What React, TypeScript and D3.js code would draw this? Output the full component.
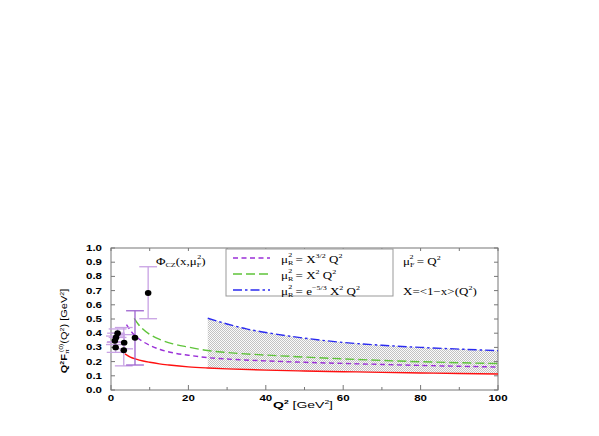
import React from "react";
import * as d3 from "d3";

// Q^2 grid and curve values
const redQ = [3.6, 5, 6.5, 8.3, 10, 12.5, 15, 20, 25, 30, 40, 50, 60, 70, 80, 90, 100];
const redY = [0.255, 0.232, 0.217, 0.204, 0.195, 0.184, 0.176, 0.163, 0.155, 0.149, 0.14, 0.134, 0.129, 0.124, 0.12, 0.116, 0.113];

const purpleQ = [4.0, 5, 6.5, 8, 10, 12.7, 16, 20, 25, 30, 40, 50, 60, 70, 80, 90, 100];
const purpleY = [0.46, 0.42, 0.375, 0.345, 0.315, 0.285, 0.262, 0.245, 0.228, 0.218, 0.205, 0.195, 0.187, 0.18, 0.173, 0.167, 0.162];

const greenQ = [6, 7, 8, 10, 12.7, 16, 20, 25, 30, 40, 50, 60, 70, 80, 90, 100];
const greenY = [0.505, 0.465, 0.435, 0.392, 0.355, 0.325, 0.302, 0.278, 0.264, 0.246, 0.232, 0.219, 0.208, 0.199, 0.192, 0.186];

const blueQ = [25, 30, 35, 40, 50, 60, 70, 80, 90, 100];
const blueY = [0.505, 0.465, 0.43, 0.405, 0.365, 0.335, 0.315, 0.3, 0.288, 0.277];

// experimental points: x, y, lower, upper
const dataX = [1.7, 1.3, 1.0, 1.2, 3.4, 3.3, 6.2, 9.6];
const dataY = [0.4, 0.37, 0.347, 0.3, 0.333, 0.28, 0.368, 0.683];
const dataLo = [0.37, 0.34, 0.32, 0.265, 0.29, 0.17, 0.176, 0.502];
const dataHi = [0.43, 0.4, 0.38, 0.335, 0.39, 0.44, 0.558, 0.868];

const xTicks = [0, 20, 40, 60, 80, 100];
const yTicks = [0, 0.1, 0.2, 0.3, 0.4, 0.5, 0.6, 0.7, 0.8, 0.9, 1.0];

const W = 599;
const H = 436;
const x = d3.scaleLinear().domain([0, 100]).range([111, 498]);
const y = d3.scaleLinear().domain([0, 1]).range([390, 248]);

const pts = (qs: number[], ys: number[]) => qs.map((q, i) => [q, ys[i]] as [number, number]);

const line = d3
  .line<[number, number]>()
  .x((d) => x(d[0]))
  .y((d) => y(d[1]))
  .curve(d3.curveMonotoneX);

const serif = "Liberation Serif, Times New Roman, serif";
const sans = "Liberation Sans, Arial, sans-serif";

// squashed text, like the downscaled postscript
const Sq = ({ x: tx, y: ty, k = 0.75, children }: any) => (
  <g transform={`translate(${tx},${ty}) scale(1,${k})`}>{children}</g>
);

const MuR = ({ sub }: { sub: string }) => (
  <>
    <tspan>μ</tspan>
    <tspan fontSize={8} dy={3}>{sub}</tspan>
    <tspan fontSize={8} dx={-5} dy={-10}>2</tspan>
    <tspan dy={7}>{"\u00a0"}</tspan>
  </>
);

export default function App() {
  const band = [
    ...pts(blueQ, blueY),
    ...pts(redQ, redY).filter((d) => d[0] >= 25).reverse(),
  ];
  const bandPath =
    "M" + band.map((d) => `${x(d[0])},${y(d[1])}`).join("L") + "Z";

  const cap = 2.3;

  return (
    <svg
      width={W}
      height={H}
      style={{ position: "absolute", left: 0, top: 0, background: "#fff" }}
    >
      <defs>
        <pattern id="dots" width={2} height={2} patternUnits="userSpaceOnUse">
          <rect width={2} height={2} fill="#fafafa" />
          <rect width={1} height={1} fill="#c2c2c2" />
          <rect x={1} y={1} width={1} height={1} fill="#c2c2c2" />
        </pattern>
      </defs>

      {/* shaded band */}
      <path d={bandPath} fill="url(#dots)" stroke="none" />

      {/* frame */}
      <rect x={111} y={248} width={387} height={142} fill="none" stroke="#777" strokeWidth={1} />

      {/* ticks */}
      {yTicks.map((t) => (
        <g key={"y" + t}>
          <line x1={111} x2={115} y1={y(t)} y2={y(t)} stroke="#777" />
          <line x1={494} x2={498} y1={y(t)} y2={y(t)} stroke="#777" />
        </g>
      ))}
      {d3.range(0, 101, 10).map((t) => (
        <g key={"x" + t}>
          <line x1={x(t)} x2={x(t)} y1={390} y2={t % 20 === 0 ? 385 : 387} stroke="#777" />
          <line x1={x(t)} x2={x(t)} y1={248} y2={251} stroke="#777" />
        </g>
      ))}

      {/* tick labels */}
      {yTicks.map((t) => (
        <Sq key={"yl" + t} x={102} y={y(t) + 3}>
          <text textAnchor="end" fontFamily={sans} fontWeight="bold" fontSize={11.5}>
            {t.toFixed(1)}
          </text>
        </Sq>
      ))}
      {xTicks.map((t) => (
        <Sq key={"xl" + t} x={x(t)} y={401}>
          <text textAnchor="middle" fontFamily={sans} fontWeight="bold" fontSize={11.5}>
            {t}
          </text>
        </Sq>
      ))}

      {/* axis titles */}
      <Sq x={303} y={408} k={0.7}>
        <text textAnchor="middle" fontFamily={sans} fontSize={14}>
          <tspan fontWeight="bold">Q</tspan>
          <tspan fontSize={8.5} dy={-6} fontWeight="bold">2</tspan>
          <tspan dy={6}> [GeV</tspan>
          <tspan fontSize={8.5} dy={-6}>2</tspan>
          <tspan dy={6}>]</tspan>
        </text>
      </Sq>
      <g transform="translate(67,331) rotate(-90) scale(1,0.8)">
        <text textAnchor="middle" fontFamily={sans} fontSize={11}>
          <tspan fontWeight="bold">Q</tspan>
          <tspan fontSize={7} dy={-4} fontWeight="bold">2</tspan>
          <tspan dy={4} fontWeight="bold">F</tspan>
          <tspan fontSize={7} dy={3}>π</tspan>
          <tspan fontSize={7} dx={-3} dy={-8}>(0)</tspan>
          <tspan dy={5}>(Q</tspan>
          <tspan fontSize={7} dy={-4}>2</tspan>
          <tspan dy={4}>) [GeV</tspan>
          <tspan fontSize={7} dy={-4}>2</tspan>
          <tspan dy={4}>]</tspan>
        </text>
      </g>

      {/* curves */}
      <path d={line(pts(redQ, redY)) || ""} fill="none" stroke="#ff1010" strokeWidth={1.4} />
      <path d={line(pts(purpleQ, purpleY)) || ""} fill="none" stroke="#9b30d8" strokeWidth={1.4} strokeDasharray="5,3.5" />
      <path d={line(pts(greenQ, greenY)) || ""} fill="none" stroke="#5fc43a" strokeWidth={1.4} strokeDasharray="9,4" />
      <path d={line(pts(blueQ, blueY)) || ""} fill="none" stroke="#2a2af0" strokeWidth={1.4} strokeDasharray="9,3,2.5,3" />

      {/* data with error bars */}
      {dataX.map((dx, i) => {
        const c = i === 6 ? "#9d63cf" : "#c8a2e4";
        return (
          <g key={"d" + i} stroke={c} strokeWidth={1.3}>
            <line x1={x(dx)} x2={x(dx)} y1={y(dataLo[i])} y2={y(dataHi[i])} />
            <line x1={x(dx - cap)} x2={x(dx + cap)} y1={y(dataLo[i])} y2={y(dataLo[i])} />
            <line x1={x(dx - cap)} x2={x(dx + cap)} y1={y(dataHi[i])} y2={y(dataHi[i])} />
          </g>
        );
      })}
      {dataX.map((dx, i) => (
        <ellipse key={"p" + i} cx={x(dx)} cy={y(dataY[i])} rx={3.3} ry={2.9} fill="#000" />
      ))}

      {/* annotations */}
      <Sq x={156} y={265} k={0.8}>
        <text fontFamily={serif} fontSize={13}>
          <tspan>Φ</tspan>
          <tspan fontSize={8} dy={2}>CZ</tspan>
          <tspan dy={-2}>(x,μ</tspan>
          <tspan fontSize={8} dy={2}>F</tspan>
          <tspan fontSize={8} dx={-4} dy={-9}>2</tspan>
          <tspan dy={7}>)</tspan>
        </text>
      </Sq>

      {/* legend */}
      <rect x={226} y={249} width={167} height={47} fill="#fff" stroke="#999" strokeWidth={1} />
      <line x1={233} x2={270} y1={258} y2={258} stroke="#9b30d8" strokeWidth={1.4} strokeDasharray="5,3.5" />
      <line x1={233} x2={270} y1={274} y2={274} stroke="#5fc43a" strokeWidth={1.4} strokeDasharray="9,4" />
      <line x1={233} x2={270} y1={290} y2={290} stroke="#2a2af0" strokeWidth={1.4} strokeDasharray="9,3,2.5,3" />
      <Sq x={281} y={263} k={0.8}>
        <text fontFamily={serif} fontSize={13}>
          <MuR sub="R" />
          <tspan>= X</tspan>
          <tspan fontSize={8} dy={-6}>3/2</tspan>
          <tspan dy={6}> Q</tspan>
          <tspan fontSize={8} dy={-6}>2</tspan>
        </text>
      </Sq>
      <Sq x={281} y={279} k={0.8}>
        <text fontFamily={serif} fontSize={13}>
          <MuR sub="R" />
          <tspan>= X</tspan>
          <tspan fontSize={8} dy={-6}>2</tspan>
          <tspan dy={6}> Q</tspan>
          <tspan fontSize={8} dy={-6}>2</tspan>
        </text>
      </Sq>
      <Sq x={281} y={295} k={0.8}>
        <text fontFamily={serif} fontSize={13}>
          <MuR sub="R" />
          <tspan>= e</tspan>
          <tspan fontSize={8} dy={-6}>−5/3</tspan>
          <tspan dy={6}> X</tspan>
          <tspan fontSize={8} dy={-6}>2</tspan>
          <tspan dy={6}> Q</tspan>
          <tspan fontSize={8} dy={-6}>2</tspan>
        </text>
      </Sq>

      <Sq x={403} y={265} k={0.8}>
        <text fontFamily={serif} fontSize={13}>
          <MuR sub="F" />
          <tspan>= Q</tspan>
          <tspan fontSize={8} dy={-6}>2</tspan>
        </text>
      </Sq>
      <Sq x={403} y={295} k={0.8}>
        <text fontFamily={serif} fontSize={13}>
          <tspan>X=&lt;1−x&gt;(Q</tspan>
          <tspan fontSize={8} dy={-6}>2</tspan>
          <tspan dy={6}>)</tspan>
        </text>
      </Sq>
    </svg>
  );
}
